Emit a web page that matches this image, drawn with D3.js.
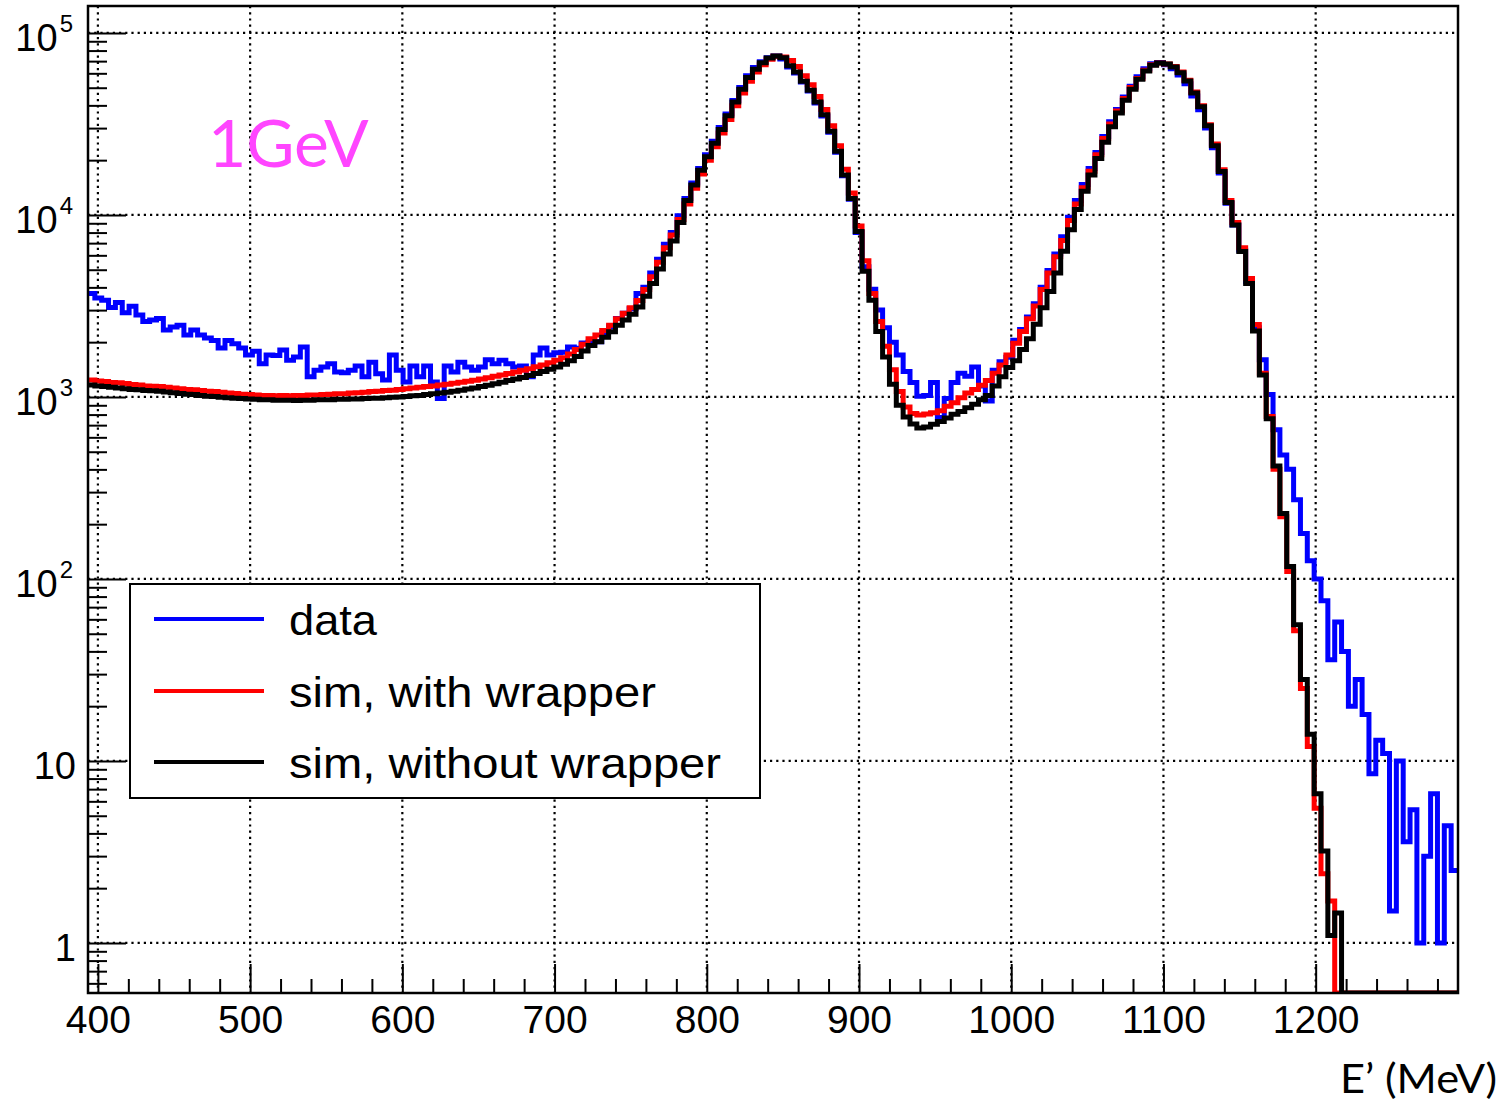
<!DOCTYPE html>
<html>
<head>
<script src="https://d3js.org/d3.v7.min.js"></script>
<style>
  body { margin: 0; background: #fff; }
  svg { display: block; }
  .lbl { font-family: "Liberation Sans", Arial, sans-serif; fill: #000; }
</style>
</head>
<body>
<svg class="chart" width="1506" height="1102"></svg>

<script>
// histogram binning (200 bins of 4.5 MeV)
const binStart = 393.5;
const binWidth = 4.5;

const dataCounts = [
  3700, 3500, 3400, 3100, 3300, 2900, 3150, 2820, 2600, 2650,
  2700, 2330, 2420, 2480, 2190, 2330, 2190, 2110, 2040, 1860,
  2040, 1960, 1860, 1700, 1780, 1520, 1700, 1690, 1810, 1590,
  1660, 1880, 1290, 1400, 1460, 1520, 1370, 1360, 1400, 1480,
  1290, 1550, 1340, 1240, 1700, 1400, 1210, 1480, 1290, 1480,
  1210, 980, 1480, 1370, 1550, 1460, 1400, 1460, 1600, 1520,
  1590, 1520, 1460, 1480, 1290, 1700, 1860, 1700, 1750, 1760,
  1880, 1850, 1980, 2000, 2010, 2250, 2430, 2700, 2880, 3050,
  3700, 4000, 4800, 5700, 6900, 8000, 9900, 12300, 15000, 18000,
  21400, 25400, 30200, 35900, 42600, 50100, 58200, 64500, 69500, 73000,
  74800, 72000, 65000, 60200, 53700, 47900, 41200, 35000, 28500, 22100,
  16400, 12200, 8000, 5200, 3900, 3000, 2400, 2000, 1700, 1380,
  1200, 1010, 1020, 1200, 770, 980, 1200, 1350, 1300, 1460,
  1150, 950, 1400, 1560, 1650, 2050, 2350, 2750, 3250, 4000,
  4950, 6100, 7600, 9700, 12000, 14700, 18000, 22000, 27000, 32500,
  38000, 44500, 51000, 57500, 63500, 67800, 68800, 66800, 63500, 58800,
  52500, 45000, 37800, 30000, 23400, 17000, 11600, 8800, 6400, 4300,
  2400, 1600, 1030, 660, 480, 400, 272, 178, 126, 100,
  76, 36, 58, 40, 20, 28, 18, 8.5, 13, 11,
  1.5, 10, 3.6, 5.4, 1.0, 3.0, 6.6, 1.0, 4.4, 2.5
];

const simWrapper = [
  1240, 1225, 1215, 1200, 1195, 1185, 1170, 1165, 1150, 1145,
  1140, 1130, 1120, 1110, 1100, 1095, 1085, 1075, 1070, 1060,
  1050, 1045, 1035, 1030, 1025, 1020, 1020, 1015, 1020, 1015,
  1020, 1020, 1025, 1025, 1030, 1035, 1040, 1040, 1050, 1055,
  1060, 1070, 1075, 1085, 1090, 1100, 1110, 1120, 1130, 1140,
  1150, 1165, 1175, 1190, 1205, 1220, 1235, 1255, 1275, 1300,
  1320, 1345, 1370, 1400, 1430, 1465, 1500, 1540, 1590, 1640,
  1720, 1820, 1950, 2090, 2190, 2320, 2480, 2690, 2880, 3090,
  3390, 3890, 4570, 5500, 6600, 7760, 9440, 11500, 14000, 16800,
  20000, 23700, 28200, 33500, 39800, 46800, 54300, 61000, 66800, 71600,
  74500, 73800, 70500, 65300, 58200, 51900, 44700, 38000, 30900, 24000,
  17800, 13200, 8700, 5600, 3700, 2600, 1900, 1410, 1070, 880,
  810, 795, 805, 820, 840, 890, 930, 990, 1050, 1100,
  1160, 1230, 1350, 1500, 1700, 1970, 2290, 2690, 3160, 3890,
  4790, 5890, 7240, 9330, 11500, 14100, 17400, 21400, 26300, 31600,
  37200, 43600, 50100, 56200, 62400, 66800, 68400, 67600, 65300, 61000,
  55000, 47300, 39800, 31300, 24500, 17700, 12000, 9100, 6600, 4470,
  2500, 1350, 780, 400, 220, 110, 52, 25, 12, 5.5,
  2.4, 1.7, 0, 0, 0, 0, 0, 0, 0, 0,
  0, 0, 0, 0, 0, 0, 0, 0, 0, 0
];

const simNoWrapper = [
  1165, 1150, 1140, 1130, 1120, 1110, 1100, 1095, 1085, 1080,
  1075, 1065, 1055, 1045, 1035, 1030, 1020, 1010, 1005, 995,
  990, 985, 980, 975, 970, 965, 965, 960, 960, 960,
  955, 960, 960, 965, 965, 965, 970, 970, 975, 975,
  980, 985, 985, 990, 995, 1000, 1005, 1015, 1020, 1030,
  1040, 1050, 1060, 1075, 1090, 1105, 1120, 1140, 1160, 1180,
  1205, 1230, 1255, 1280, 1310, 1345, 1380, 1420, 1460, 1510,
  1580, 1670, 1790, 1920, 2010, 2130, 2280, 2480, 2650, 2850,
  3120, 3580, 4200, 5050, 6100, 7200, 9100, 12000, 14600, 17600,
  20900, 24800, 29500, 35100, 41700, 49000, 56900, 63100, 68600, 72800,
  74800, 73000, 66000, 61000, 54300, 48400, 41700, 35500, 28800, 22400,
  16600, 12300, 8100, 4900, 3400, 2290, 1660, 1175, 900, 775,
  710, 676, 684, 708, 733, 767, 804, 832, 871, 912,
  966, 1020, 1150, 1290, 1450, 1580, 1820, 2090, 2510, 3090,
  3800, 4790, 6310, 8300, 10700, 13500, 16600, 20400, 25100, 30500,
  36300, 42700, 49000, 55600, 61700, 66400, 68400, 67600, 65000, 60500,
  54500, 46800, 39300, 30900, 24000, 17300, 11700, 8800, 6300, 4200,
  2300, 1320, 760, 417, 229, 117, 56, 28, 14, 6.6,
  3.2, 1.1, 1.46, 0, 0, 0, 0, 0, 0, 0,
  0, 0, 0, 0, 0, 0, 0, 0, 0, 0
];

const seriesLabels = ["data", "sim, with wrapper", "sim, without wrapper"];
const seriesColors = ["#0000ff", "#ff0000", "#000000"];

const xMajor = [400, 500, 600, 700, 800, 900, 1000, 1100, 1200];
const yMajor = [1, 10, 100, 1000, 10000, 100000];
const yLabelBase = ["1", "10", "10", "10", "10", "10"];
const yLabelExp = ["", "", "2", "3", "4", "5"];

const svg = d3.select(".chart");

const frame = { left: 88, right: 1458, top: 6, bottom: 993 };

const x = d3.scaleLinear()
    .domain([binStart, binStart + binWidth * dataCounts.length])
    .range([frame.left, frame.right]);

const y = d3.scaleLog()
    .domain([0.531, 140600])
    .range([frame.bottom, frame.top]);

// minor ticks
const xMinor = d3.range(400, 1293, 20).filter(v => v % 100 !== 0);
const yMinor = [];
[0.1, 1, 10, 100, 1000, 10000].forEach(p => {
    for (let k = 2; k <= 9; k++) {
        const v = k * p;
        if (v > y.domain()[0] && v < y.domain()[1]) yMinor.push(v);
    }
});

svg.append("defs").append("clipPath").attr("id", "plotClip")
  .append("rect")
    .attr("x", frame.left).attr("y", frame.top)
    .attr("width", frame.right - frame.left)
    .attr("height", frame.bottom - frame.top);

// grid
const grid = svg.append("g")
    .attr("stroke", "#000")
    .attr("stroke-width", 2.2)
    .attr("stroke-dasharray", "2.2,4");
grid.selectAll(".vgrid").data(xMajor).enter().append("line")
    .attr("x1", d => x(d)).attr("x2", d => x(d))
    .attr("y1", frame.top).attr("y2", frame.bottom);
grid.selectAll(".hgrid").data(yMajor).enter().append("line")
    .attr("x1", frame.left).attr("x2", frame.right)
    .attr("y1", d => y(d)).attr("y2", d => y(d));

// histograms
function histPath(vals) {
    let p = "";
    vals.forEach((v, i) => {
        const x0 = x(binStart + i * binWidth);
        const x1 = x(binStart + (i + 1) * binWidth);
        const yy = v > 0 ? Math.min(y(v), frame.bottom) : frame.bottom;
        p += (i === 0 ? "M" : "L") + x0 + "," + yy + "L" + x1 + "," + yy;
    });
    return p;
}

const hists = svg.append("g").attr("clip-path", "url(#plotClip)");
[dataCounts, simWrapper, simNoWrapper].forEach((vals, k) => {
    hists.append("path")
        .attr("d", histPath(vals))
        .attr("fill", "none")
        .attr("stroke", seriesColors[k])
        .attr("stroke-width", 5)
        .attr("stroke-linejoin", "miter");
});

// axes
const xAxisG = svg.append("g")
    .attr("transform", `translate(0,${frame.bottom})`)
    .call(d3.axisBottom(x).tickValues(xMajor).tickSize(-29).tickPadding(12)
        .tickFormat(d3.format("d")));
svg.append("g")
    .attr("transform", `translate(0,${frame.bottom})`)
    .call(d3.axisBottom(x).tickValues(xMinor).tickSize(-14).tickFormat(""));
svg.append("g")
    .attr("transform", `translate(${frame.left},0)`)
    .call(d3.axisLeft(y).tickValues(yMajor).tickSize(-38).tickFormat(""));
svg.append("g")
    .attr("transform", `translate(${frame.left},0)`)
    .call(d3.axisLeft(y).tickValues(yMinor).tickSize(-19).tickFormat(""));

svg.selectAll(".domain").remove();
svg.selectAll(".tick line").attr("stroke", "#000").attr("stroke-width", 2);

xAxisG.selectAll(".tick text")
    .attr("class", "lbl")
    .style("font-size", "39px")
    .attr("fill", "#000");

// y tick labels with superscripts
yMajor.forEach((v, i) => {
    const t = svg.append("text")
        .attr("class", "lbl")
        .attr("x", yLabelExp[i] ? 73 : 76)
        .attr("y", y(v) + 18)
        .attr("text-anchor", "end")
        .style("font-size", "38px")
        .text(yLabelBase[i]);
    if (yLabelExp[i]) {
        t.append("tspan")
            .attr("dx", 2)
            .attr("dy", -19)
            .style("font-size", "24px")
            .text(yLabelExp[i]);
    }
});

// frame
svg.append("rect")
    .attr("x", frame.left).attr("y", frame.top)
    .attr("width", frame.right - frame.left)
    .attr("height", frame.bottom - frame.top)
    .attr("fill", "none")
    .attr("stroke", "#000")
    .attr("stroke-width", 2.5);

// legend
const legend = svg.append("g");
legend.append("rect")
    .attr("x", 130).attr("y", 584)
    .attr("width", 630).attr("height", 214)
    .attr("fill", "#fff")
    .attr("stroke", "#000")
    .attr("stroke-width", 2);
const legendY = [619, 691, 762];
const legendTextLen = [88, 367, 432];
seriesLabels.forEach((s, i) => {
    legend.append("line")
        .attr("x1", 154).attr("x2", 264)
        .attr("y1", legendY[i]).attr("y2", legendY[i])
        .attr("stroke", seriesColors[i])
        .attr("stroke-width", 4);
    legend.append("text")
        .attr("class", "lbl")
        .attr("x", 289)
        .attr("y", legendY[i] + 16)
        .style("font-size", "42px")
        .attr("textLength", legendTextLen[i])
        .attr("lengthAdjust", "spacingAndGlyphs")
        .text(s);
});

// energy label and axis title
svg.append("text")
    .attr("x", 208).attr("y", 167)
    .style("font-family", "Lato, 'Open Sans', sans-serif")
    .style("font-size", "66px")
    .attr("fill", "#ff45ff")
    .text("1GeV");

svg.append("text")
    .attr("x", 1497).attr("y", 1093)
    .attr("text-anchor", "end")
    .style("font-family", "Lato, 'Open Sans', sans-serif")
    .style("font-size", "40px")
    .attr("textLength", 157)
    .attr("lengthAdjust", "spacingAndGlyphs")
    .attr("fill", "#000")
    .text("E\u2019 (MeV)");
</script>
</body>
</html>
